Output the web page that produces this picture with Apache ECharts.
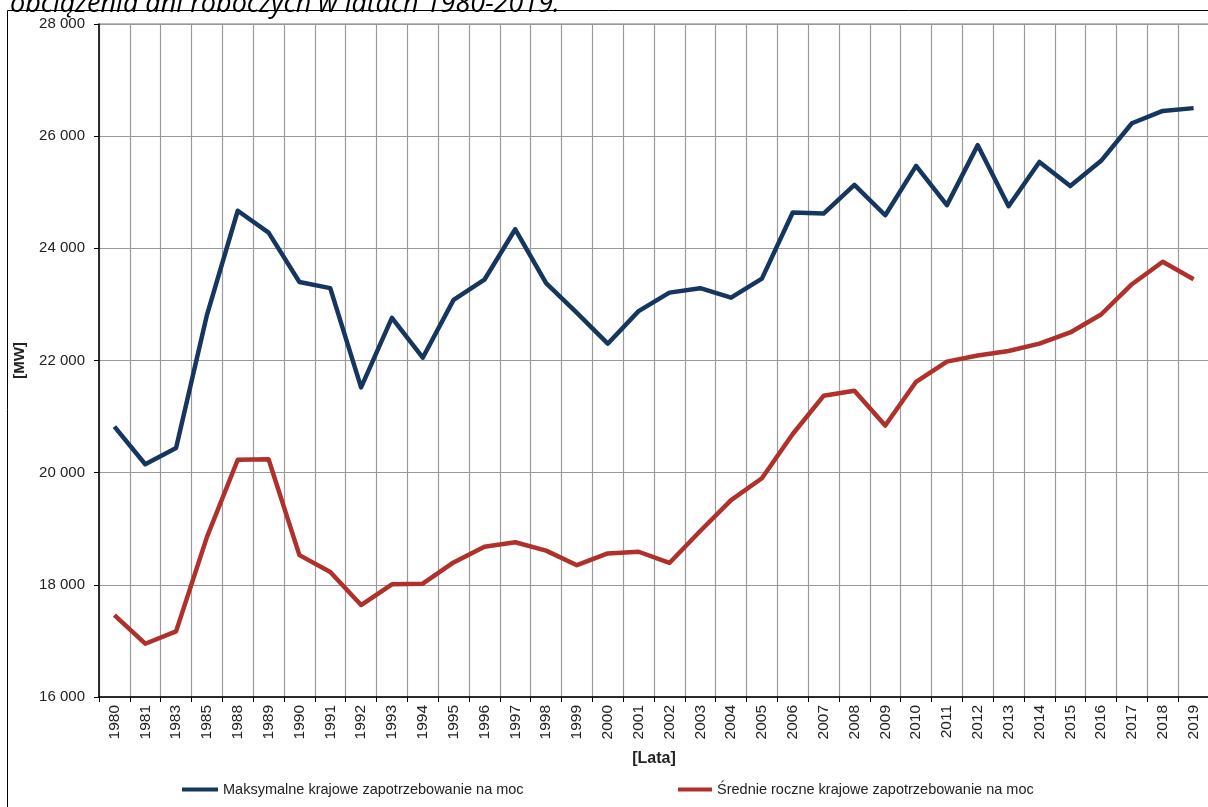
<!DOCTYPE html>
<html lang="pl">
<head>
<meta charset="utf-8">
<title>Zapotrzebowanie na moc 1980-2019</title>
<script src="https://cdn.jsdelivr.net/npm/echarts@6/dist/echarts.min.js"></script>
<style>
  html, body { margin: 0; padding: 0; background: #fff; }
  #chart { width: 1208px; height: 807px; }
</style>
</head>
<body>
<div id="chart"></div>
<script>
// Lata (kategorie osi X)
const years = ['1980','1981','1983','1985','1988','1989',
  '1990','1991','1992','1993','1994','1995','1996','1997','1998','1999',
  '2000','2001','2002','2003','2004','2005','2006','2007','2008','2009',
  '2010','2011','2012','2013','2014','2015','2016','2017','2018','2019'];

// Maksymalne krajowe zapotrzebowanie na moc [MW]
const maxDemand = [20820, 20150, 20440, 22810, 24670, 24280,
  23400, 23290, 21520, 22760, 22050, 23080, 23440, 24340, 23380, 22850,
  22300, 22880, 23210, 23290, 23120, 23460, 24640, 24620, 25130, 24590,
  25470, 24770, 25840, 24750, 25540, 25110, 25560, 26230, 26450, 26500];

// Średnie roczne krajowe zapotrzebowanie na moc [MW]
const avgDemand = [17460, 16950, 17170, 18850, 20230, 20240,
  18530, 18230, 17640, 18010, 18020, 18400, 18680, 18760, 18610, 18350,
  18560, 18590, 18390, 18960, 19510, 19900, 20690, 21370, 21460, 20840,
  21620, 21980, 22090, 22170, 22300, 22500, 22820, 23360, 23760, 23450];

const seriesNames = ['Maksymalne krajowe zapotrzebowanie na moc',
                     'Średnie roczne krajowe zapotrzebowanie na moc'];

const yMin = 16000, yMax = 28000, yStep = 2000;

const FONT = '"Liberation Sans", Arial, sans-serif';
const BLUE = '#17365f';
const RED = '#b0302b';

const chart = echarts.init(document.getElementById('chart'), null, { renderer: 'canvas' });

chart.setOption({
  animation: false,
  backgroundColor: '#ffffff',
  textStyle: { fontFamily: FONT },
  graphic: [
    {
      type: 'rect',
      shape: { x: 7.5, y: 10.5, width: 1400, height: 1000 },
      style: { fill: 'none', stroke: '#000', lineWidth: 1 },
      silent: true, z: 0
    },
    {
      type: 'text',
      x: 10, y: 18,
      style: {
        text: 'obciążenia dni roboczych w latach 1980-2019.',
        font: 'italic 27px "Open Sans", "Liberation Sans", sans-serif',
        fill: '#000',
        verticalAlign: 'bottom'
      },
      silent: true, z: 10
    }
  ],
  grid: {
    left: 99, top: 24, width: 1110, height: 673,
    show: true, borderColor: '#777', borderWidth: 1,
    outerBoundsMode: 'none'
  },
  legend: [
    {
      data: [seriesNames[0]],
      left: 182, top: 782, padding: 0,
      icon: 'rect', itemWidth: 36, itemHeight: 4,
      textStyle: { fontSize: 14.5, color: '#222', fontFamily: FONT },
      selectedMode: false
    },
    {
      data: [seriesNames[1]],
      left: 678, top: 782, padding: 0,
      icon: 'rect', itemWidth: 34, itemHeight: 4,
      textStyle: { fontSize: 14.5, color: '#222', fontFamily: FONT },
      selectedMode: false
    }
  ],
  xAxis: {
    type: 'category',
    data: years,
    boundaryGap: true,
    name: '[Lata]',
    nameLocation: 'middle',
    nameGap: 54,
    nameTextStyle: { fontSize: 16, fontWeight: 'bold', color: '#222', fontFamily: FONT },
    axisLine: { lineStyle: { color: '#000', width: 1.5 } },
    axisTick: { show: true, length: 5, lineStyle: { color: '#000' } },
    axisLabel: {
      rotate: 90, interval: 0, margin: 8,
      fontSize: 15.5, color: '#222', fontFamily: FONT
    },
    splitLine: { show: true, interval: 0, lineStyle: { color: '#9a9a9a', width: 1.2 } }
  },
  yAxis: {
    type: 'value',
    min: yMin, max: yMax, interval: yStep,
    name: '[MW]',
    nameLocation: 'middle',
    nameGap: 72,
    nameRotate: 90,
    nameTextStyle: { fontSize: 15, fontWeight: 'bold', color: '#222', fontFamily: FONT },
    axisLine: { show: true, lineStyle: { color: '#000', width: 1.5 } },
    axisTick: { show: true, length: 5, lineStyle: { color: '#000' } },
    axisLabel: {
      margin: 14, fontSize: 15, color: '#222', fontFamily: FONT,
      formatter: v => String(v).replace(/\B(?=(\d{3})+(?!\d))/g, ' ')
    },
    splitLine: { show: true, lineStyle: { color: '#9a9a9a', width: 1.2 } }
  },
  series: [
    {
      name: seriesNames[0],
      type: 'line',
      data: maxDemand,
      symbol: 'none',
      color: BLUE,
      lineStyle: { color: BLUE, width: 4.5, join: 'round' },
      z: 3
    },
    {
      name: seriesNames[1],
      type: 'line',
      data: avgDemand,
      symbol: 'none',
      color: RED,
      lineStyle: { color: RED, width: 4.5, join: 'round' },
      z: 3
    }
  ]
});
</script>
</body>
</html>
